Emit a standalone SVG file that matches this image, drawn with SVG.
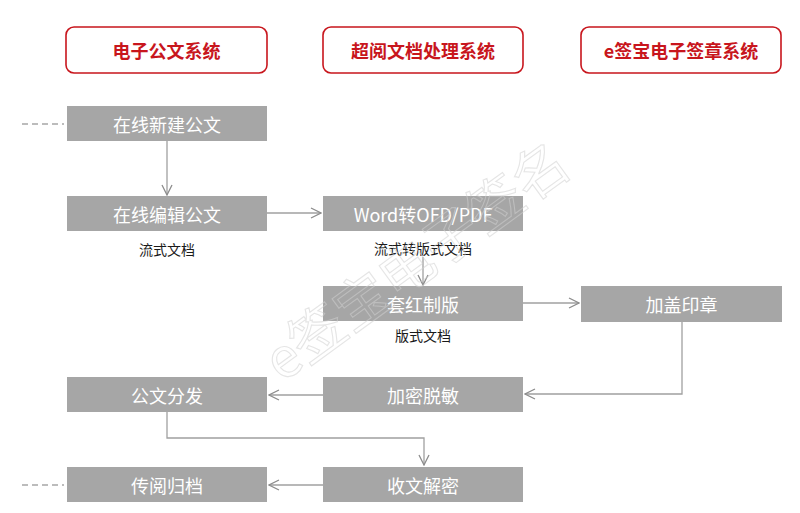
<svg xmlns="http://www.w3.org/2000/svg" width="800" height="513" viewBox="0 0 800 513">
<style>
.hdr{fill:#fff;stroke:#c8161d;stroke-width:1.6}
.ht{font-family:"Noto Sans CJK SC","Noto Sans",sans-serif;font-weight:bold;font-size:18px;fill:#c8161d;text-anchor:middle;dominant-baseline:central}
.box{fill:#a6a6a6}
.bt{font-family:"Noto Sans CJK SC","Noto Sans",sans-serif;font-size:18px;fill:#fff;text-anchor:middle;dominant-baseline:central}
.lbl{font-family:"Noto Sans CJK SC","Noto Sans",sans-serif;font-size:14px;fill:#1a1a1a;text-anchor:middle;dominant-baseline:central}
.ln{fill:none;stroke:#a0a0a0;stroke-width:1.3}
.dash{fill:none;stroke:#a6a6a6;stroke-width:1.3;stroke-dasharray:6 4}
.wm{font-family:"Noto Sans CJK SC",sans-serif;font-size:55px;fill:none;stroke:#d0d0d0;stroke-opacity:0.55;stroke-width:1.1;text-anchor:middle;dominant-baseline:central}
</style>
<defs>
<marker id="arr" viewBox="0 0 12 12" refX="11" refY="6" markerWidth="12" markerHeight="12" markerUnits="userSpaceOnUse" orient="auto">
<path d="M1,1 L11,6 L1,11" fill="none" stroke="#8c8c8c" stroke-width="1.3"/>
</marker>
</defs>
<rect width="800" height="513" fill="#fff"/>

<g id="h1"><rect class="hdr" x="66" y="27" width="201" height="46" rx="8"/><text class="ht" x="166.5" y="50">电子公文系统</text></g>
<g id="h2"><rect class="hdr" x="323" y="27" width="200" height="46" rx="8"/><text class="ht" x="423" y="50">超阅文档处理系统</text></g>
<g id="h3"><rect class="hdr" x="581" y="27" width="200" height="46" rx="8"/><text class="ht" x="681" y="50">e签宝电子签章系统</text></g>

<g id="connectors">
<line class="dash" x1="22" y1="124" x2="64" y2="124"/>
<line class="dash" x1="22" y1="485" x2="64" y2="485"/>
<line class="ln" x1="167" y1="141" x2="167" y2="195" marker-end="url(#arr)"/>
<line class="ln" x1="267" y1="213" x2="321" y2="213" marker-end="url(#arr)"/>
<line class="ln" x1="423" y1="257" x2="423" y2="285" marker-end="url(#arr)"/>
<line class="ln" x1="523" y1="303" x2="579" y2="303" marker-end="url(#arr)"/>
<polyline class="ln" points="682,322 682,394 525,394" marker-end="url(#arr)"/>
<line class="ln" x1="323" y1="395" x2="269" y2="395" marker-end="url(#arr)"/>
<polyline class="ln" points="167,412 167,438 424,438 424,465" marker-end="url(#arr)"/>
<line class="ln" x1="323" y1="485" x2="269" y2="485" marker-end="url(#arr)"/>
</g>

<g id="n1"><rect class="box" x="67" y="106" width="200" height="35"/><text class="bt" x="167" y="123.5">在线新建公文</text></g>
<g id="n2"><rect class="box" x="67" y="196" width="200" height="35"/><text class="bt" x="167" y="213.5">在线编辑公文</text><text class="lbl" x="167" y="249">流式文档</text></g>
<g id="n3"><rect class="box" x="323" y="196" width="200" height="35"/><text class="bt" x="423" y="213.5">Word转OFD/PDF</text><text class="lbl" x="423" y="248">流式转版式文档</text></g>
<g id="n4"><rect class="box" x="323" y="286" width="200" height="35"/><text class="bt" x="423" y="303.5">套红制版</text><text class="lbl" x="423" y="335">版式文档</text></g>
<g id="n5"><rect class="box" x="581" y="286" width="201" height="36"/><text class="bt" x="681.5" y="304">加盖印章</text></g>
<g id="n6"><rect class="box" x="323" y="377" width="200" height="35"/><text class="bt" x="423" y="394.5">加密脱敏</text></g>
<g id="n7"><rect class="box" x="67" y="377" width="200" height="35"/><text class="bt" x="167" y="394.5">公文分发</text></g>
<g id="n8"><rect class="box" x="323" y="467" width="200" height="35"/><text class="bt" x="423" y="484.5">收文解密</text></g>
<g id="n9"><rect class="box" x="67" y="467" width="200" height="35"/><text class="bt" x="167" y="484.5">传阅归档</text></g>

<text class="wm" x="414" y="258" transform="rotate(-36 414 258)">e签宝电子签名</text>
</svg>
